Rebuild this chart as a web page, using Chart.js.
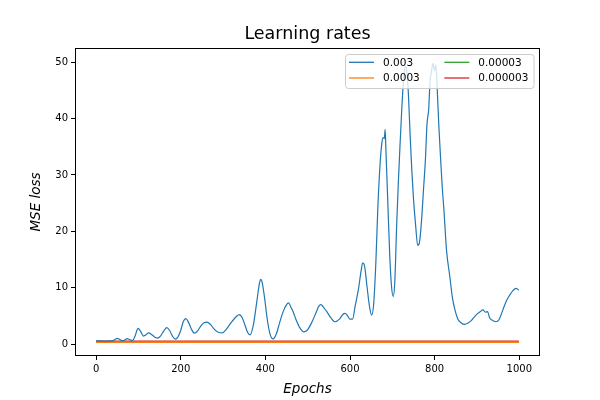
<!DOCTYPE html>
<html><head><meta charset="utf-8">
<script src="https://cdn.jsdelivr.net/npm/chart.js@4.4.1/dist/chart.umd.min.js"></script>
<style>html,body{margin:0;padding:0;background:#fff}#c{display:block}</style>
</head><body>
<canvas id="c" width="600" height="400"></canvas>
<script>
const chartTitle = 'Learning rates';
const xTitle = 'Epochs';
const yTitle = 'MSE loss';
const seriesLabels = ['0.003', '0.0003', '0.00003', '0.000003'];
const seriesColors = ['#1f77b4', '#ff7f0e', '#2ca02c', '#d62728'];
const xTicks = [0, 200, 400, 600, 800, 1000];
const yTicks = [0, 10, 20, 30, 40, 50];

const epochs003 = [0,10,20,30,40,50,55,61,67,73,80,86,92,99,105,112,118,124,132,140,145,152,160,167,174,181,187,193,200,206,212,218,225,232,240,248,255,262,270,280,290,298,308,318,328,338,345,352,358,364,372,380,386,389,392,398,404,410,418,426,434,442,450,455,460,466,472,480,491,500,510,520,526,531,538,546,555,565,575,583,588,594,600,606,612,620,626,630,634,640,646,651,656,661,666,671,675,678,681,683,685,689,694,698,702,706,710,714,718,722,726,730,734,738,742,746,750,755,760,764,769,774,778,782,786,789,793,796,800,803,806,810,814,818,822,828,836,842,848,855,862,871,880,887,895,902,908,914,920,925,930,937,945,952,961,970,977,985,992,999];
const loss003 = [0.57,0.57,0.52,0.57,0.62,1.03,0.88,0.62,0.72,0.98,0.77,0.62,1.44,2.78,2.27,1.44,1.65,2.0,1.65,1.18,1.08,1.44,2.37,2.94,2.37,1.34,0.88,1.24,2.47,4.02,4.53,3.91,2.68,1.96,2.37,3.3,3.81,3.91,3.5,2.58,2.06,2.0,2.68,3.71,4.64,5.25,4.74,3.3,2.06,1.65,3.6,7.73,10.8,11.5,11.1,8.24,4.64,2.06,0.93,1.85,3.91,5.77,7.0,7.31,6.59,5.67,4.43,3.09,2.16,2.58,3.91,5.67,6.7,7.0,6.49,5.67,4.64,3.97,4.43,5.25,5.46,5.05,4.43,4.43,6.7,9.79,12.9,14.4,14.0,10.3,6.7,5.15,7.21,14.4,24.7,31.9,35.5,36.6,36.4,38.1,34.0,25.8,15.5,10.3,8.45,11.3,20.6,28.3,35.0,41.2,46.4,49.3,48.5,44.3,37.1,30.9,25.8,21.1,17.5,18.0,21.9,27.8,32.4,39.1,41.7,46.4,48.6,49.8,48.5,49.5,45.3,38.6,33.0,27.8,23.7,16.7,11.9,8.24,6.08,4.43,3.81,3.5,3.81,4.22,4.94,5.46,5.77,6.08,5.67,5.77,4.64,4.22,3.97,4.33,6.03,7.73,8.65,9.48,9.89,9.58];
const epochsFlat = [0, 999];
const loss0003 = [0.32, 0.32];
const loss00003 = [0.3, 0.3];
const loss000003 = [0.53, 0.53];

function pts(xs, ys) { return xs.map((x, i) => ({x: x, y: ys[i]})); }

const decor = {
  id: 'decor',
  afterDraw(chart) {
    const ctx = chart.ctx, a = chart.chartArea;
    ctx.save();
    ctx.strokeStyle = '#000'; ctx.lineWidth = 1;
    ctx.strokeRect(Math.round(a.left) + 0.5, Math.round(a.top) + 0.5, Math.round(a.right - a.left) - 1, Math.round(a.bottom - a.top) - 1);
    const lx = 345.5, ly = 54.5, lw = 188.5, lh = 34;
    ctx.beginPath();
    ctx.roundRect(lx, ly, lw, lh, 3);
    ctx.fillStyle = 'rgba(255,255,255,0.8)'; ctx.fill();
    ctx.strokeStyle = '#cccccc'; ctx.lineWidth = 1; ctx.stroke();
    const colX = [349, 444.3], rowY = [62.3, 78];
    const order = [[0,0,0],[1,0,1],[2,1,0],[3,1,1]];
    ctx.font = '10.5px "DejaVu Sans"'; ctx.textBaseline = 'middle'; ctx.textAlign = 'left';
    order.forEach(([d, c, r]) => {
      const ds = chart.data.datasets[d];
      ctx.strokeStyle = ds.borderColor; ctx.lineWidth = 1.3;
      ctx.beginPath(); ctx.moveTo(colX[c], rowY[r]); ctx.lineTo(colX[c] + 25, rowY[r]); ctx.stroke();
      ctx.fillStyle = '#000'; ctx.fillText(ds.label, colX[c] + 34, rowY[r] + 0.5);
    });
    ctx.fillStyle = '#000'; ctx.textAlign = 'center'; ctx.textBaseline = 'alphabetic';
    ctx.font = '17.5px "DejaVu Sans"';
    ctx.fillText(chartTitle, (a.left + a.right) / 2, 39);
    ctx.font = 'italic 13.5px "DejaVu Sans"';
    ctx.fillText(xTitle, (a.left + a.right) / 2, 393);
    ctx.translate(40, (a.top + a.bottom) / 2);
    ctx.rotate(-Math.PI / 2);
    ctx.fillText(yTitle, 0, 0);
    ctx.restore();
  }
};

const tickFont = {family: 'DejaVu Sans', size: 10};
new Chart(document.getElementById('c'), {
  type: 'line',
  data: {
    datasets: [
      {label: seriesLabels[0], data: pts(epochs003, loss003), borderColor: seriesColors[0], cubicInterpolationMode: 'monotone'},
      {label: seriesLabels[1], data: pts(epochsFlat, loss0003), borderColor: seriesColors[1]},
      {label: seriesLabels[2], data: pts(epochsFlat, loss00003), borderColor: seriesColors[2]},
      {label: seriesLabels[3], data: pts(epochsFlat, loss000003), borderColor: seriesColors[3]}
    ].map(d => Object.assign({borderWidth: 1.2, pointRadius: 0, fill: false, tension: 0}, d))
  },
  options: {
    responsive: false,
    animation: false,
    devicePixelRatio: 1,
    layout: {padding: {left: 0, top: 48, right: 60, bottom: 0}},
    plugins: {legend: {display: false}, title: {display: false}, tooltip: {enabled: false}},
    scales: {
      x: {
        type: 'linear', min: -50, max: 1049,
        afterBuildTicks: s => { s.ticks = xTicks.map(v => ({value: v})); },
        afterFit: s => { s.height = 44; },
        ticks: {font: tickFont, color: '#000', padding: 3, maxRotation: 0, callback: v => String(v)},
        grid: {drawOnChartArea: false, tickLength: 4, color: '#000'},
        border: {display: false}
      },
      y: {
        type: 'linear', min: -2.1, max: 52.5,
        afterBuildTicks: s => { s.ticks = yTicks.map(v => ({value: v})); },
        afterFit: s => { s.width = 75; },
        ticks: {font: tickFont, color: '#000', padding: 3, callback: v => String(v)},
        grid: {drawOnChartArea: false, tickLength: 4, color: '#000'},
        border: {display: false}
      }
    }
  },
  plugins: [decor]
});
</script>
</body></html>
